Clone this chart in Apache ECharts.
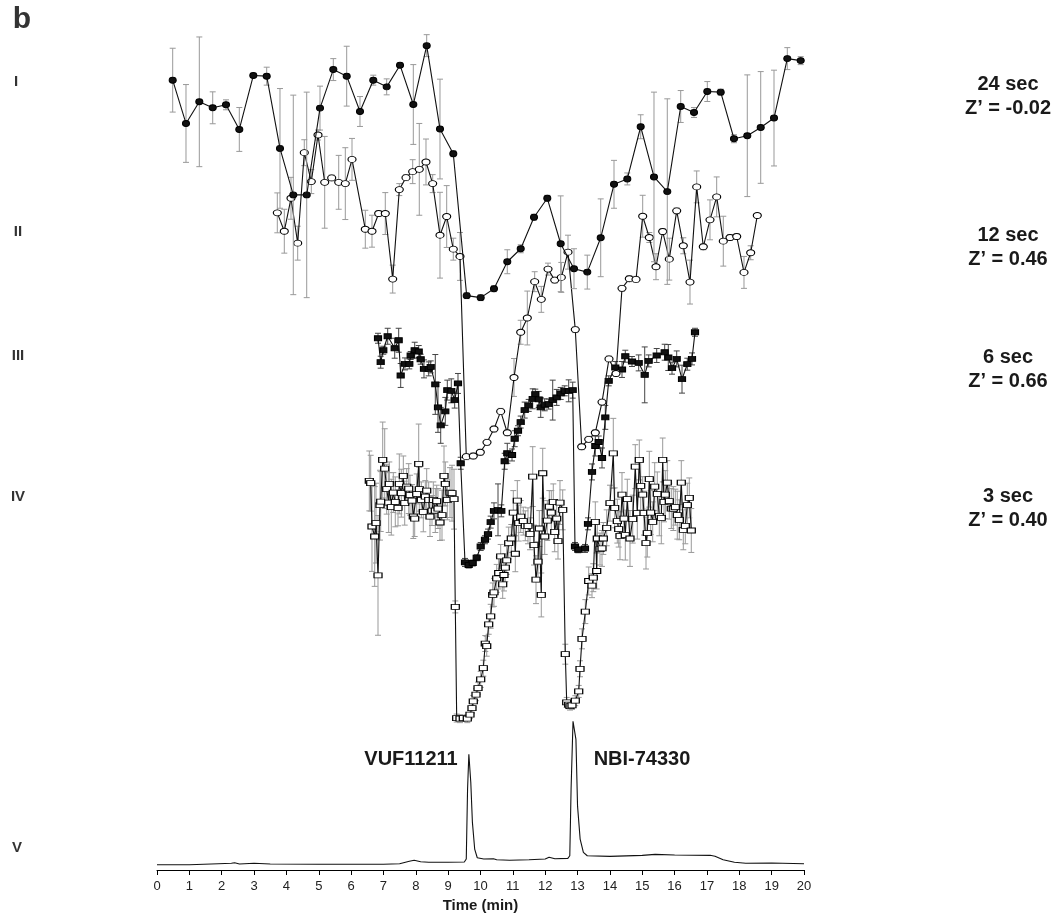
<!DOCTYPE html>
<html><head><meta charset="utf-8">
<script src="https://cdn.jsdelivr.net/npm/echarts@6/dist/echarts.min.js"></script>
<style>html,body{margin:0;padding:0;background:#fff}#c{width:1062px;height:924px}</style>
</head><body><div id="c"></div>
<script>
// ---- data (time in min, response in arbitrary units) ----
const xTicks = [0,1,2,3,4,5,6,7,8,9,10,11,12,13,14,15,16,17,18,19,20];

// I : 24 sec
const sI_t = [0.485,0.896,1.308,1.722,2.133,2.544,2.977,3.391,3.802,4.213,4.628,5.039,5.450,5.864,6.275,6.686,7.100,7.512,7.923,8.337,8.748,9.159,9.573,10.006,
10.417,10.828,11.243,11.654,12.065,12.479,12.890,13.301,13.716,14.127,14.538,14.952,15.363,15.774,16.189,16.600,17.011,17.425,17.836,18.247,18.662,19.073,19.484,19.898];
const sI_v = [791.7,748.3,770,764,767,742.3,796.3,795.7,723.3,676.7,676.7,763.7,802.3,795.7,760.3,791.7,785,806.7,767.3,826.3,742.7,718,575.7,573.7,
582.7,609.7,622.7,654.3,673.3,627.7,602.7,599.3,633.7,687.3,692.7,745,694.7,680,765.3,759.3,780.3,779.7,733,736,744.3,753.7,813.3,811.3];
const sI_e = [32,39,65,16,5,22,2,9,60,100,103,22,11,30,15,5,8,2,40,11,50,3,3,3,
3,12,4,3,3,48,20,17,39,24,6,12,85,93,16,5,10,3,4,61,56,48,11,4];

// II : 12 sec
const sII_t = [3.719,3.935,4.142,4.349,4.553,4.770,4.977,5.184,5.400,5.617,5.821,6.028,6.439,6.646,6.853,7.057,7.286,7.490,7.697,7.904,8.108,8.315,8.522,8.748,8.955,9.159,9.366,
9.561,9.777,9.994,10.201,10.417,10.624,10.828,11.036,11.243,11.447,11.675,11.879,12.087,12.294,12.498,12.705,12.930,13.128,13.345,13.549,13.756,13.972,14.189,14.374,14.600,14.807,
15.014,15.218,15.425,15.632,15.836,16.065,16.269,16.476,16.683,16.887,17.094,17.301,17.505,17.713,17.920,18.145,18.352,18.556];
const sII_v = [658.7,640.3,673.3,628.3,719,690,736.7,689.3,693.7,689.3,688,712.3,642.3,640.3,658,658,592.3,682,694,700,702.3,709.7,688,636.3,655,622.3,615,
414.3,415,418.7,428.7,442,459.7,438.3,493.7,539,553.3,589.7,572,602.3,591.3,594,619.3,541.7,424.3,431.7,438.3,469,512.3,497.7,583,592.7,592,
655.3,634,604.7,640,612.3,660.7,625.7,589.3,684.7,624.7,651.7,674.7,630.3,634,635,599,618.7,656];
const sII_e = [20,22,21,17,13,12,5,46,3,27,36,21,19,16,3,21,14,6,3,12,46,23,9,43,31,11,24,
3,3,3,3,3,3,3,19,12,27,10,13,6,3,15,17,3,3,3,3,3,3,3,3,3,3,
21,5,13,3,21,3,8,22,16,3,20,20,25,3,3,16,7,2];

// III : 6 sec
const sIII_t = [6.832,6.915,6.995,7.131,7.348,7.471,7.533,7.666,7.799,7.842,7.966,8.090,8.151,8.253,8.399,8.461,8.603,8.686,8.770,8.912,8.974,9.097,9.202,9.304,9.388,
9.521,9.635,9.759,9.883,10.006,10.139,10.232,10.315,10.417,10.541,10.643,10.748,10.828,10.974,11.057,11.159,11.243,11.366,11.490,11.614,11.694,11.799,11.861,11.985,12.108,
12.232,12.355,12.479,12.603,12.726,12.850,12.921,13.023,13.230,13.323,13.447,13.549,13.654,13.756,13.858,13.963,14.167,14.374,14.476,14.683,14.890,15.076,15.199,15.447,
15.694,15.805,15.920,16.065,16.229,16.393,16.538,16.631];
const sIII_v = [533,509,521,535,523,531,495.7,507.3,507.3,515.7,521,519.7,512,502.3,502.3,504.3,486.7,463.7,445.7,459.7,481,480.3,471,487.7,407.7,
308.3,305.7,307.7,313,324.3,331,336.7,348.7,360,361,360,409.7,417.7,416,432.3,440.3,449,461,465.7,472.3,477,471.7,463.7,466.3,467,
471,473.7,477.7,480.3,480.3,481,324.3,321,322.3,347,399,425,429,413,453.7,490.3,503.7,501.7,515,509.7,508.3,496.3,510.3,515.7,
519,513.7,503,512.3,492,507,512.3,539];
const sIII_e = [5,6,4,8,10,12,12,6,5,4,8,6,5,9,7,6,30,25,18,14,10,12,8,10,6,4,3,3,3,4,4,5,6,8,26,6,8,10,6,8,
5,6,8,6,10,5,8,10,6,5,20,8,6,5,11,8,4,3,4,6,8,10,6,10,12,5,6,8,6,5,8,28,6,7,8,13,6,8,14,6,6,4];

// IV : 3 sec
const sIV_t = [6.563,6.606,6.646,6.730,6.770,6.832,6.893,6.915,6.977,7.039,7.101,7.162,7.181,7.243,7.304,7.366,7.450,7.490,7.552,7.614,7.657,7.719,7.781,7.821,7.883,7.923,7.966,
8.028,8.090,8.108,8.170,8.232,8.294,8.337,8.399,8.439,8.501,8.541,8.603,8.646,8.686,8.748,8.810,8.872,8.912,8.974,9.057,9.119,9.181,9.221,9.264,9.366,9.468,9.592,9.675,9.737,
9.777,9.861,9.923,10.006,10.087,10.148,10.192,10.253,10.315,10.377,10.417,10.501,10.563,10.624,10.686,10.726,10.767,10.810,10.872,10.952,11.014,11.076,11.138,11.181,11.243,
11.323,11.385,11.468,11.530,11.614,11.654,11.716,11.777,11.818,11.879,11.923,11.985,12.065,12.127,12.188,12.250,12.294,12.355,12.396,12.457,12.541,12.621,12.665,12.726,12.767,
12.828,12.930,13.036,13.076,13.138,13.240,13.345,13.447,13.487,13.549,13.592,13.611,13.694,13.756,13.796,13.901,14.003,14.105,14.148,14.229,14.272,14.312,14.374,14.436,14.476,
14.538,14.621,14.705,14.785,14.847,14.909,14.952,15.014,15.054,15.116,15.156,15.218,15.261,15.323,15.385,15.465,15.527,15.589,15.632,15.672,15.712,15.774,15.836,15.898,15.960,
16.022,16.083,16.145,16.207,16.269,16.331,16.393,16.454,16.516];
const sIV_v = [390,387.7,344.3,334.3,347.7,295.3,365.7,369.3,411,402.3,381.7,368.3,387,363.7,378.3,369,363,387,377.7,395,367.7,384.3,382.3,375.7,370.3,354.3,352.3,
377,407,381.7,371,359,374.3,380.3,371,354.3,360.3,371,360.3,369.7,362.3,348.3,355.7,395,387,371,378.3,377.7,371.7,263.7,152.3,151.7,152.3,151.7,155.7,162.3,
169,175.7,182.3,191,202.3,227,224.3,246.3,254.3,275.7,278.3,292.3,297.7,314.3,286.3,295.7,303,310.3,327.7,332.3,358.3,317,370.3,347.7,354.3,
349.7,345,345,337,394.3,325.7,291,309,342.3,275.7,397.7,334.3,350.3,364.3,358.3,369,339,352.3,329.7,368.3,361,216.3,168,165.7,164.3,
165,169.7,179,201.7,231.7,259,289.7,285,293,349,299.7,332.3,321.7,322.3,332.3,343,367.7,417.7,363,349.7,341.7,335,376.3,352.3,335.7,
371.7,332.3,351.7,404.3,357.7,411,385,376.3,357.7,327.7,337.7,391.7,358.3,349,384.3,377,355,353,411,369,376.3,388.3,369.7,362.3,362.3,
363.7,355.7,351,388.3,341,345,365.7,373,340.3];
const sIV_e = [30,28,45,50,40,60,35,30,38,40,25,30,22,28,20,25,18,30,24,20,22,18,25,20,16,22,18,20,40,22,
18,20,16,22,18,20,15,18,22,16,20,18,25,30,22,20,25,28,30,6,4,4,3,4,4,5,6,6,6,8,
8,8,10,10,12,12,14,14,16,12,14,16,14,14,16,14,22,18,20,18,16,14,15,18,16,30,20,24,20,18,
22,25,18,20,16,22,18,20,16,18,22,20,10,5,4,4,4,5,6,8,10,12,14,12,14,20,18,14,16,18,
16,18,18,35,20,22,18,24,22,20,25,20,28,24,22,26,20,24,18,22,26,24,28,22,20,24,22,20,26,22,
20,24,22,18,20,22,18,24,20,22,20,18,22,20,22];

// V : chromatogram
const chrom_t = [0,1.0,1.9,2.3,2.4,2.55,3.0,3.5,5.0,7.0,7.5,7.8,7.95,8.15,8.4,9.0,9.5,9.56,9.6,9.64,9.7,9.75,9.82,9.9,10.1,10.4,10.45,10.5,10.9,11.5,12.0,12.12,12.3,12.7,12.76,12.8,12.86,12.95,13.0,13.08,13.18,13.3,14.0,15.0,15.4,16.0,17.1,17.25,17.5,17.85,18.2,19.0,20.0];
const chrom_v = [5.3,5.3,6.3,6.7,7.3,6,6.7,6,5.7,5.7,6.3,8.7,9.7,8.3,7.7,7.7,8,11,81,116,87.7,47.7,21,12.3,11,11.3,12.3,10.3,9.7,10.3,11,12.7,11.3,11.7,14.3,81,149,131,64,31,17.7,14.3,13.7,14.7,15.7,15,14.7,13.7,10.3,7.7,6.7,7,6.3];

// ---- build ----
const zip = (a,b,c) => a.map((t,i)=> c ? [t,b[i],c[i]] : [t,b[i]]);
const ELL = 'path://M0 50A50 50 0 1 1 100 50A50 50 0 1 1 0 50Z';
const FONT = "'Liberation Sans', Arial, Helvetica, sans-serif";

function errSeries(t,v,e,color,z){
  return {type:'custom', z:z, silent:true, animation:false,
    data: zip(t,v,e),
    renderItem: function(params, api){
      const x = api.value(0), y = api.value(1), d = api.value(2);
      const top = api.coord([x, y+d]), bot = api.coord([x, y-d]);
      const w = 3;
      return {type:'group', children:[
        {type:'line', shape:{x1:top[0],y1:top[1],x2:bot[0],y2:bot[1]}, style:{stroke:color,lineWidth:1}},
        {type:'line', shape:{x1:top[0]-w,y1:top[1],x2:top[0]+w,y2:top[1]}, style:{stroke:color,lineWidth:1}},
        {type:'line', shape:{x1:bot[0]-w,y1:bot[1],x2:bot[0]+w,y2:bot[1]}, style:{stroke:color,lineWidth:1}}
      ]};
    }};
}
function lineSeries(name,t,v,symbol,size,fill,z){
  return {name:name,type:'line',z:z,data:zip(t,v),symbol:symbol,symbolSize:size,showSymbol:true,
    animation:false, silent:true,
    lineStyle:{color:'#111',width:1.1},
    itemStyle:{color:fill,borderColor:'#000',borderWidth:1}};
}

const chart = echarts.init(document.getElementById('c'), null, {renderer:'canvas'});
const txt = (x,y,s,size,weight,color) => ({type:'text', x:x, y:y, style:{text:s, font:(weight||'bold')+' '+size+'px '+FONT, fill:color||'#1a1a1a', align:'center', verticalAlign:'middle'}});

chart.setOption({
  backgroundColor:'#fff',
  animation:false,
  grid:{left:157,right:258,top:22,bottom:54,containLabel:false},
  xAxis:{type:'value',min:0,max:20,interval:1,
    axisLine:{show:true,lineStyle:{color:'#000',width:1}},
    axisTick:{show:true,length:5,lineStyle:{color:'#000'}},
    axisLabel:{fontSize:13,color:'#222',margin:10,fontFamily:FONT,
      formatter:(v)=> xTicks.indexOf(v)>=0 ? String(v) : ''},
    splitLine:{show:false},
    name:'Time (min)',nameLocation:'middle',nameGap:28,
    nameTextStyle:{fontSize:15,fontWeight:'bold',color:'#1a1a1a',fontFamily:FONT}},
  yAxis:{type:'value',min:0,max:850,show:false,splitLine:{show:false}},
  series:[
    {type:'line',data:zip(chrom_t,chrom_v),symbol:'none',lineStyle:{color:'#111',width:1.1},z:2,animation:false,silent:true},
    errSeries(sIV_t,sIV_v,sIV_e,'#999',1),
    lineSeries('IV',sIV_t,sIV_v,'rect',[8,5],'#fff',3),
    errSeries(sIII_t,sIII_v,sIII_e,'#444',4),
    lineSeries('III',sIII_t,sIII_v,'rect',[7,5],'#111',5),
    errSeries(sII_t,sII_v,sII_e,'#999',6),
    lineSeries('II',sII_t,sII_v,ELL,[8,6],'#fff',7),
    errSeries(sI_t,sI_v,sI_e,'#999',8),
    lineSeries('I',sI_t,sI_v,ELL,[7,6],'#111',9)
  ],
  graphic:[
    txt(22,20,'b',30,'bold','#333'),
    txt(16,82,'I',15,'bold','#333'),
    txt(18,232,'II',15,'bold','#333'),
    txt(18,356,'III',15,'bold','#333'),
    txt(18,497,'IV',15,'bold','#333'),
    txt(17,848,'V',15,'bold','#333'),
    txt(1008,84,'24 sec',20),
    txt(1008,108,'Z\u2019 = -0.02',20),
    txt(1008,235,'12 sec',20),
    txt(1008,259,'Z\u2019 = 0.46',20),
    txt(1008,357,'6 sec',20),
    txt(1008,381,'Z\u2019 = 0.66',20),
    txt(1008,496,'3 sec',20),
    txt(1008,520,'Z\u2019 = 0.40',20),
    txt(411,759,'VUF11211',20),
    txt(642,759,'NBI-74330',20)
  ]
});
</script></body></html>
